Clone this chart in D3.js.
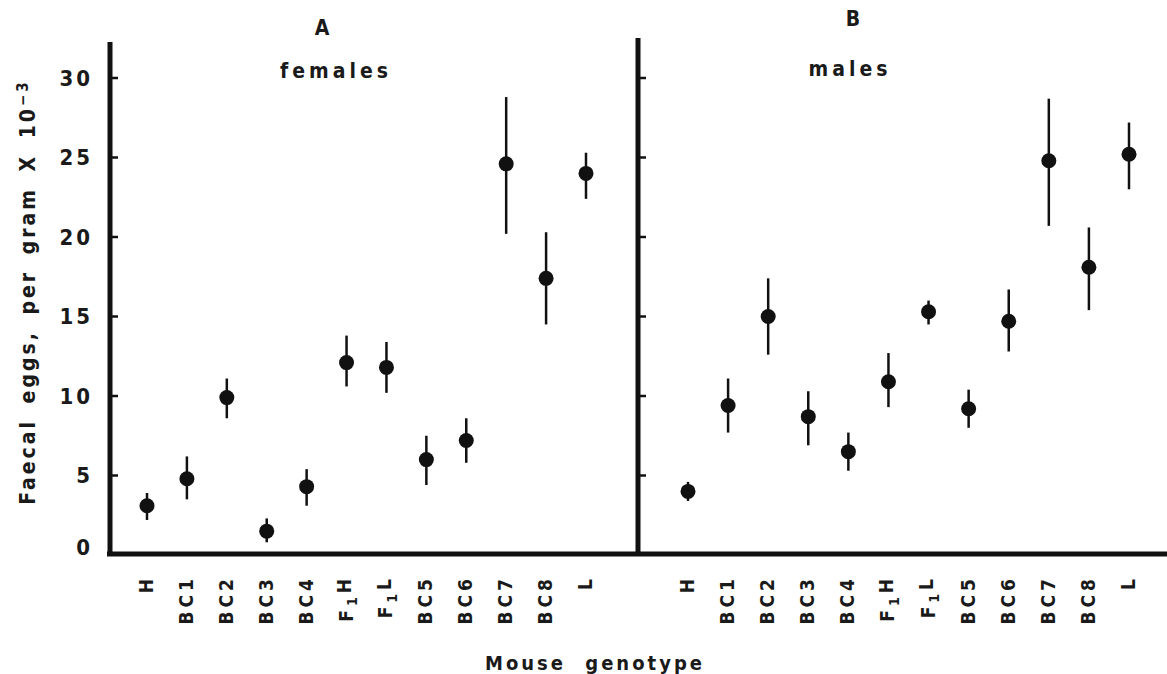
<!DOCTYPE html>
<html lang="en">
<head>
<meta charset="UTF-8">
<title>Faecal eggs per gram by mouse genotype</title>
<style>
  body { margin: 0; background: #fff; }
  svg { display: block; }
  text { font-family: "Liberation Sans Narrow", "DejaVu Sans Condensed", "Roboto", sans-serif; font-weight: bold; fill: #1a1a1a; }
</style>
</head>
<body>
<svg id="chart" width="1167" height="674"></svg>
<script src="https://cdnjs.cloudflare.com/ajax/libs/d3/7.8.5/d3.min.js"></script>
<script>
// genotypes, same order in both panels
const categories = ["H", "BC1", "BC2", "BC3", "BC4", "F1H", "F1L", "BC5", "BC6", "BC7", "BC8", "L"];

// panel A, females (eggs per gram x 10^-3)
const femaleMean = [3.1, 4.8, 9.9, 1.5, 4.3, 12.1, 11.8, 6.0, 7.2, 24.6, 17.4, 24.0];
const femaleLow  = [2.2, 3.5, 8.6, 0.8, 3.1, 10.6, 10.2, 4.4, 5.8, 20.2, 14.5, 22.4];
const femaleHigh = [3.9, 6.2, 11.1, 2.3, 5.4, 13.8, 13.4, 7.5, 8.6, 28.8, 20.3, 25.3];

// panel B, males
const maleMean = [4.0, 9.4, 15.0, 8.7, 6.5, 10.9, 15.3, 9.2, 14.7, 24.8, 18.1, 25.2];
const maleLow  = [3.4, 7.7, 12.6, 6.9, 5.3, 9.3, 14.5, 8.0, 12.8, 20.7, 15.4, 23.0];
const maleHigh = [4.6, 11.1, 17.4, 10.3, 7.7, 12.7, 16.0, 10.4, 16.7, 28.7, 20.6, 27.2];

const yTicks = [0, 5, 10, 15, 20, 25, 30];

const svg = d3.select("#chart");

const y = d3.scaleLinear().domain([0, 30]).range([555, 78]);

const panels = [
  { letter: "A", title: "females", axisX: 110, axisTop: 42, range: [147, 586],
    letterX: 322, letterY: 35, titleX: 336, titleY: 78,
    mean: femaleMean, low: femaleLow, high: femaleHigh, labels: true },
  { letter: "B", title: "males", axisX: 638, axisTop: 38, range: [688, 1129],
    letterX: 853, letterY: 26, titleX: 850, titleY: 76,
    mean: maleMean, low: maleLow, high: maleHigh, labels: false }
];

// bottom axis line across both panels
svg.append("line")
  .attr("x1", 107).attr("x2", 1167)
  .attr("y1", y(0) - 1).attr("y2", y(0) - 1)
  .attr("stroke", "#111").attr("stroke-width", 5);

panels.forEach(p => {
  const x = d3.scalePoint().domain(categories).range(p.range);

  // vertical axis
  svg.append("line")
    .attr("x1", p.axisX).attr("x2", p.axisX)
    .attr("y1", p.axisTop).attr("y2", y(0) + 1)
    .attr("stroke", "#111").attr("stroke-width", 5);

  // inward ticks
  svg.selectAll(null).data(yTicks.slice(1)).enter().append("line")
    .attr("x1", p.axisX).attr("x2", p.axisX + 8)
    .attr("y1", d => y(d)).attr("y2", d => y(d))
    .attr("stroke", "#111").attr("stroke-width", 2.5);

  if (p.labels) {
    svg.selectAll(null).data(yTicks).enter().append("text")
      .attr("x", p.axisX - 17)
      .attr("y", d => d === 0 ? y(d) - 8 : y(d))
      .attr("dy", "0.36em")
      .attr("text-anchor", "end")
      .style("font-size", "22px")
      .style("letter-spacing", "3px")
      .text(d => d);
  }

  svg.append("text")
    .attr("x", p.letterX).attr("y", p.letterY)
    .attr("text-anchor", "middle")
    .style("font-size", "21px")
    .text(p.letter);

  svg.append("text")
    .attr("x", p.titleX).attr("y", p.titleY)
    .attr("text-anchor", "middle")
    .style("font-size", "21px")
    .style("letter-spacing", "4px")
    .text(p.title);

  // error bars
  svg.selectAll(null).data(categories).enter().append("line")
    .attr("x1", d => x(d)).attr("x2", d => x(d))
    .attr("y1", (d, i) => y(p.high[i]))
    .attr("y2", (d, i) => y(p.low[i]))
    .attr("stroke", "#111").attr("stroke-width", 2.5);

  // means
  svg.selectAll(null).data(categories).enter().append("circle")
    .attr("cx", d => x(d))
    .attr("cy", (d, i) => y(p.mean[i]))
    .attr("r", 7.5)
    .attr("fill", "#111");

  // rotated genotype labels
  const lab = svg.selectAll(null).data(categories).enter().append("text")
    .attr("transform", d => `translate(${x(d) + 6},575) rotate(-90)`)
    .attr("text-anchor", "end")
    .style("font-size", "19px")
    .style("letter-spacing", "4px");
  lab.each(function(d) {
    const t = d3.select(this);
    if (d.startsWith("F1")) {
      t.append("tspan").text("F");
      t.append("tspan").attr("dy", "0.3em").style("font-size", "14px").text("1");
      t.append("tspan").attr("dy", "-0.3em").text(d.slice(2));
    } else {
      t.text(d);
    }
  });
});

// y axis title
const yt = svg.append("text")
  .attr("transform", "translate(35,292) rotate(-90)")
  .attr("text-anchor", "middle")
  .style("font-size", "21px")
  .style("letter-spacing", "3px")
  .style("word-spacing", "6px");
yt.append("tspan").text("Faecal eggs, per gram X 10");
yt.append("tspan").attr("dy", "-0.5em").style("font-size", "15px").text("−3");

// x axis title
svg.append("text")
  .attr("x", 595).attr("y", 670)
  .attr("text-anchor", "middle")
  .style("font-size", "20px")
  .style("letter-spacing", "3px")
  .style("word-spacing", "10px")
  .text("Mouse genotype");
</script>
</body>
</html>
